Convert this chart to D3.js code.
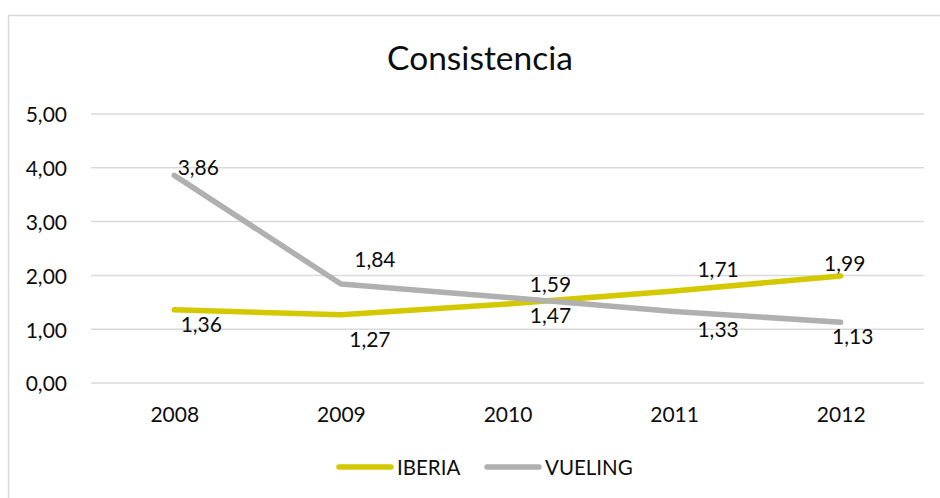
<!DOCTYPE html>
<meta charset="utf-8">
<script src="https://cdn.jsdelivr.net/npm/d3@7/dist/d3.min.js"></script>
<style>
body {
    margin: 0;
    background: #fff;
}
text {
    font-family: Lato, "Open Sans", sans-serif;
    fill: #0d0d0d;
}
.grid line {
    stroke: #d9d9d9;
    stroke-width: 1.5;
}
.serie {
    fill: none;
    stroke-width: 5.5;
    stroke-linecap: round;
    stroke-linejoin: round;
}
</style>
<svg width="940" height="498"></svg>
<script>

// datos
var years = ["2008", "2009", "2010", "2011", "2012"];
var iberia = [1.36, 1.27, 1.47, 1.71, 1.99];
var vueling = [3.86, 1.84, 1.59, 1.33, 1.13];
var yTicks = [0, 1, 2, 3, 4, 5];

var series = [
    {name: "IBERIA", values: iberia, color: "#d4c900"},
    {name: "VUELING", values: vueling, color: "#b0b0b0"}
];

// desplazamiento de las etiquetas (dx, dy) respecto al punto
var labelShift = {
    IBERIA: [[27, 22], [29, 32], [43, 19], [44, -14], [4, -5]],
    VUELING: [[24, 0], [34, -17], [43, -5], [44, 26], [12, 22]]
};

var svg = d3.select("svg");
var fmt = function(v) { return v.toFixed(2).replace(".", ","); };

// borde del grafico
svg.append("rect")
    .attr("x", 8.5)
    .attr("y", 15.5)
    .attr("width", 960)
    .attr("height", 520)
    .attr("fill", "none")
    .attr("stroke", "#d9d9d9")
    .attr("stroke-width", 1.5);

var x = d3.scalePoint()
    .domain(years)
    .range([91, 924])
    .padding(0.5);

var y = d3.scaleLinear()
    .domain([0, 5])
    .range([383, 114]);

// titulo
svg.append("text")
    .attr("x", 480)
    .attr("y", 70)
    .attr("text-anchor", "middle")
    .style("font-size", "33.5px")
    .text("Consistencia");

// lineas de cuadricula
svg.append("g")
    .attr("class", "grid")
    .selectAll("line")
    .data(yTicks)
    .enter().append("line")
    .attr("x1", 91)
    .attr("x2", 924)
    .attr("y1", function(d) { return y(d); })
    .attr("y2", function(d) { return y(d); });

// eje y
var yAxis = svg.append("g")
    .attr("transform", "translate(67,0)")
    .call(d3.axisLeft(y).tickValues(yTicks).tickFormat(fmt).tickSize(0).tickPadding(0));
yAxis.select(".domain").remove();
yAxis.selectAll("text")
    .attr("dy", "0.38em")
    .style("font-size", "21px")
    .attr("fill", "#0d0d0d");

// eje x
var xAxis = svg.append("g")
    .attr("transform", "translate(0,383)")
    .call(d3.axisBottom(x).tickSize(0).tickPadding(0));
xAxis.select(".domain").remove();
xAxis.selectAll("text")
    .attr("dy", null)
    .attr("y", 39)
    .style("font-size", "21px")
    .attr("fill", "#0d0d0d");

var line = d3.line()
    .x(function(d, i) { return x(years[i]); })
    .y(function(d) { return y(d); });

svg.append("g")
    .selectAll("path")
    .data(series)
    .enter().append("path")
    .attr("class", "serie")
    .attr("stroke", function(d) { return d.color; })
    .attr("d", function(d) { return line(d.values); });

// etiquetas de datos
series.forEach(function(s) {
    svg.append("g")
        .selectAll("text")
        .data(s.values)
        .enter().append("text")
        .attr("x", function(d, i) { return x(years[i]) + labelShift[s.name][i][0]; })
        .attr("y", function(d, i) { return y(d) + labelShift[s.name][i][1]; })
        .attr("text-anchor", "middle")
        .style("font-size", "21px")
        .text(fmt);
});

// leyenda
var legendX = [337, 485];
var legend = svg.append("g")
    .selectAll("g")
    .data(series)
    .enter().append("g")
    .attr("transform", function(d, i) { return "translate(" + legendX[i] + ",467)"; });

legend.append("line")
    .attr("x1", 2)
    .attr("x2", 54)
    .attr("stroke", function(d) { return d.color; })
    .attr("stroke-width", 5.5)
    .attr("stroke-linecap", "round");

legend.append("text")
    .attr("x", 60)
    .attr("y", 8)
    .style("font-size", "20.5px")
    .text(function(d) { return d.name; });

</script>
